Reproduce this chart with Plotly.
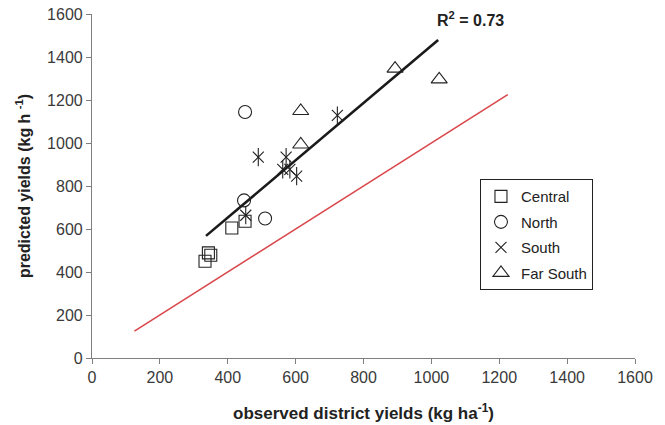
import plotly.graph_objects as go

# Observed (x) vs predicted (y) district yields, kg/ha
central_x = [333, 343, 350, 412, 451]
central_y = [450, 489, 478, 605, 636]
north_x = [451, 448, 510]
north_y = [1144, 733, 649]
south_x = [490, 572, 562, 583, 603, 453, 723]
south_y = [934, 934, 877, 877, 846, 664, 1128]
farsouth_x = [615, 615, 893, 1023]
farsouth_y = [1149, 993, 1346, 1296]

fit_x = [336, 1020]
fit_y = [568, 1479]
one_to_one = [125, 1225]

x_ticks = [0, 200, 400, 600, 800, 1000, 1200, 1400, 1600]
y_ticks = [0, 200, 400, 600, 800, 1000, 1200, 1400, 1600]

FONT = "Liberation Sans, Arial, sans-serif"
AX = "#7f7f7f"

fig = go.Figure()

fig.add_trace(go.Scatter(x=one_to_one, y=one_to_one, mode="lines",
                         line=dict(color="#d9484c", width=1.6),
                         showlegend=False, hoverinfo="skip"))
fig.add_trace(go.Scatter(x=fit_x, y=fit_y, mode="lines",
                         line=dict(color="#1a1a1a", width=2.6),
                         showlegend=False, hoverinfo="skip"))

mk_line = dict(color="#222222", width=1.1)
fig.add_trace(go.Scatter(x=central_x, y=central_y, mode="markers", name="Central",
                         legendgroup="c",
                         marker=dict(symbol="square-open", size=12, color="#222222", line=mk_line)))
fig.add_trace(go.Scatter(x=north_x, y=north_y, mode="markers", name="North",
                         legendgroup="n",
                         marker=dict(symbol="circle-open", size=13, color="#222222", line=mk_line)))
fig.add_trace(go.Scatter(x=south_x, y=south_y, mode="markers", name="South",
                         legendgroup="s",
                         marker=dict(symbol="x-thin-open", size=11, color="#222222", line=mk_line)))
fig.add_trace(go.Scatter(x=south_x, y=south_y, mode="markers", name="South",
                         legendgroup="s", showlegend=False,
                         marker=dict(symbol="line-ns-open", size=13, color="#222222", line=mk_line)))
fig.add_trace(go.Scatter(x=farsouth_x, y=farsouth_y, mode="markers", name="Far South",
                         legendgroup="f",
                         marker=dict(symbol="triangle-up-open", size=14, color="#222222", line=mk_line)))

fig.add_annotation(x=1114, y=1576, text="<b>R<sup>2</sup> = 0.73</b>", showarrow=False,
                   font=dict(family=FONT, size=16, color="#222222"))

fig.update_xaxes(range=[0, 1600], tickvals=x_ticks, showgrid=False, zeroline=False,
                 automargin=False, ticklabeloverflow="allow",
                 showline=True, linecolor=AX, linewidth=1.2, ticks="outside",
                 tickcolor=AX, ticklen=5, tickfont=dict(family=FONT, size=16, color="#3a3a3a"),
                 title=dict(text="<b>observed district yields (kg ha<sup>-1</sup>)</b>",
                            font=dict(family=FONT, size=17, color="#222222"), standoff=21))
fig.update_yaxes(range=[0, 1600], tickvals=y_ticks, showgrid=False, zeroline=False,
                 automargin=False, ticklabeloverflow="allow",
                 showline=True, linecolor=AX, linewidth=1.2, ticks="outside",
                 tickcolor=AX, ticklen=5, tickfont=dict(family=FONT, size=16, color="#3a3a3a"),
                 title=dict(text="<b>predicted yields (kg h <sup>-1</sup>)</b>",
                            font=dict(family=FONT, size=16, color="#222222"), standoff=12))

fig.update_layout(
    width=665, height=425,
    margin=dict(l=92, r=30, t=14, b=67),
    plot_bgcolor="white", paper_bgcolor="white",
    font=dict(family=FONT, size=16, color="#222222"),
    legend=dict(x=0.7145, y=0.52, xanchor="left", yanchor="top",
                bordercolor="#222222", borderwidth=1, bgcolor="white",
                font=dict(family=FONT, size=15, color="#222222"),
                tracegroupgap=3, itemwidth=30),
)

fig.write_html("out.html", config={"displayModeBar": False},
               post_script="document.body.style.margin='0';")
